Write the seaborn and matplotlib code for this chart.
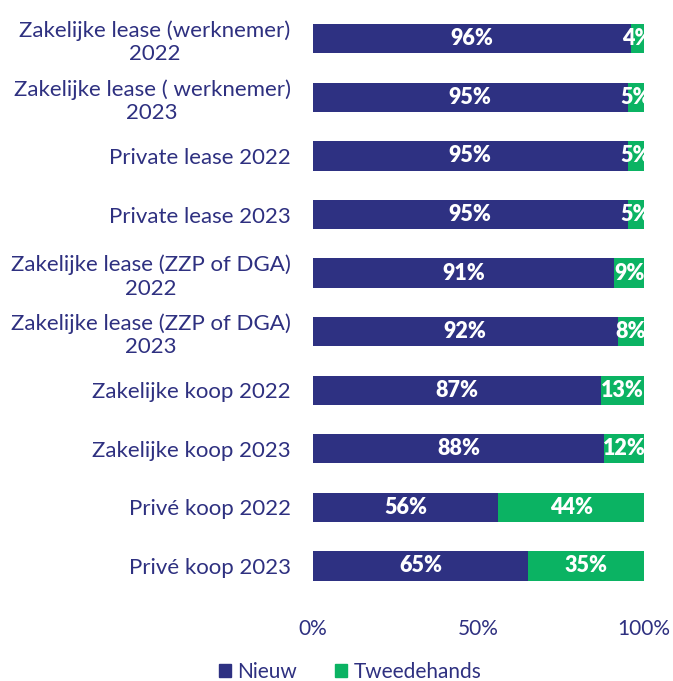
import matplotlib
matplotlib.use('Agg')
import matplotlib.pyplot as plt
import seaborn as sns
import pandas as pd
from matplotlib.patches import Patch

categories = [
    'Zakelijke lease (werknemer)\n2022',
    'Zakelijke lease ( werknemer)\n2023',
    'Private lease 2022',
    'Private lease 2023',
    'Zakelijke lease (ZZP of DGA)\n2022',
    'Zakelijke lease (ZZP of DGA)\n2023',
    'Zakelijke koop 2022',
    'Zakelijke koop 2023',
    'Privé koop 2022',
    'Privé koop 2023',
]
nieuw = [96, 95, 95, 95, 91, 92, 87, 88, 56, 65]
tweedehands = [4, 5, 5, 5, 9, 8, 13, 12, 44, 35]
x_ticks = [0, 50, 100]
x_ticklabels = ['0%', '50%', '100%']

NAVY = '#2E3182'
GREEN = '#0BB363'
TXT = '#2E3080'

sns.set_style('white')
plt.rcParams['font.family'] = ['Lato', 'DejaVu Sans']

df = pd.DataFrame({'cat': categories, 'nieuw': nieuw, 'tweedehands': tweedehands})
df['totaal'] = df['nieuw'] + df['tweedehands']

fig = plt.figure(figsize=(6.73, 6.81), dpi=100)
ax = fig.add_axes([0.465, 0.126, 0.492, 0.860])

# gestapeld: totaal in groen, nieuw er overheen in blauw
sns.barplot(data=df, y='cat', x='totaal', color=GREEN, orient='h', width=0.5,
            ax=ax, saturation=1, linewidth=0)
sns.barplot(data=df, y='cat', x='nieuw', color=NAVY, orient='h', width=0.5,
            ax=ax, saturation=1, linewidth=0)

for i, (n, t) in enumerate(zip(nieuw, tweedehands)):
    ax.text(n / 2, i, f'{n}%', ha='center', va='center', color='white',
            fontsize=15.5, fontweight='heavy')
    ax.text(n + t / 2, i, f'{t}%', ha='center', va='center', color='white',
            fontsize=15.5, fontweight='heavy')

ax.set_xlim(0, 100)
ax.set_ylim(9.5, -0.5)
ax.set_xticks(x_ticks)
ax.set_xticklabels(x_ticklabels, fontsize=15, color=TXT)
ax.tick_params(axis='x', length=0, pad=17)
ax.tick_params(axis='y', length=0, pad=16)
for lab in ax.get_yticklabels():
    lab.set_multialignment('center')
    lab.set_fontsize(16)
    lab.set_color(TXT)
ax.set_xlabel('')
ax.set_ylabel('')
sns.despine(ax=ax, left=True, bottom=True)

handles = [Patch(color=NAVY, label='Nieuw'), Patch(color=GREEN, label='Tweedehands')]
leg = fig.legend(handles=handles, loc='center', bbox_to_anchor=(0.52, 0.013), ncol=2,
                 frameon=False, fontsize=15, handlelength=0.6, handleheight=0.6,
                 handletextpad=0.3, columnspacing=1.8)
for t in leg.get_texts():
    t.set_color(TXT)

fig.savefig('out.png', dpi=100, facecolor='white')
